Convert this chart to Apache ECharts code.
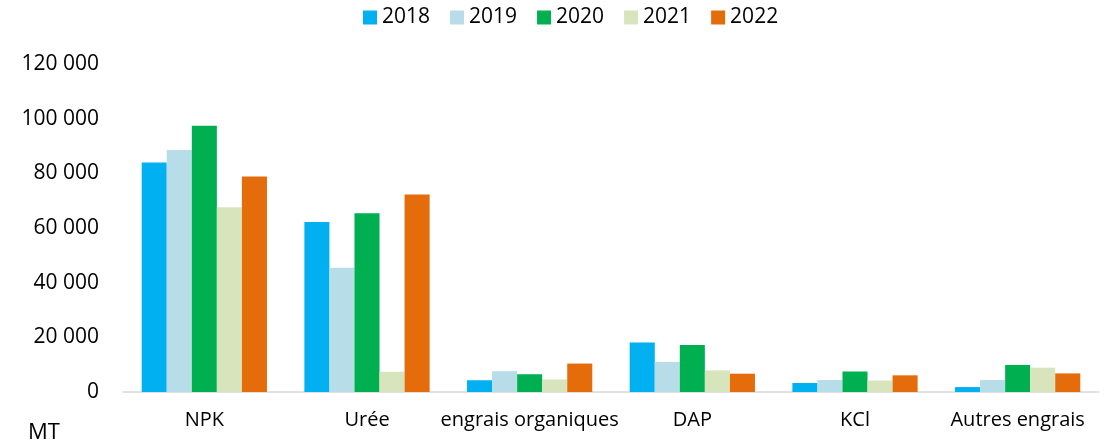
<!DOCTYPE html>
<html>
<head>
<meta charset="utf-8">
<script src="https://cdn.jsdelivr.net/npm/echarts@6/dist/echarts.min.js"></script>
<style>
  html, body { margin: 0; padding: 0; background: #fff; }
  #chart { width: 1112px; height: 445px; }
</style>
</head>
<body>
<div id="chart"></div>
<script>
// values, in MT
const categories = ['NPK', 'Urée', 'engrais organiques', 'DAP', 'KCl', 'Autres engrais'];
const years = ['2018', '2019', '2020', '2021', '2022'];
const v2018 = [84000, 62200, 4300, 18100, 3300, 1800];
const v2019 = [88500, 45500, 7600, 11000, 4400, 4400];
const v2020 = [97400, 65400, 6500, 17200, 7500, 9900];
const v2021 = [67600, 7400, 4600, 7900, 4200, 8900];
const v2022 = [78800, 72300, 10400, 6700, 6100, 6800];
const yearValues = [v2018, v2019, v2020, v2021, v2022];
const colors = ['#00b0f0', '#b7dde8', '#00b050', '#d8e4bc', '#e46c0a'];

const font = '"Open Sans", sans-serif';

// 120000 -> "120 000"
function fmt(v) {
  return String(v).replace(/\B(?=(\d{3})+(?!\d))/g, ' ');
}

const chart = echarts.init(document.getElementById('chart'));
chart.setOption({
  animation: false,
  color: colors,
  textStyle: { fontFamily: font },
  legend: {
    top: 2,
    left: 358,
    itemWidth: 14,
    itemHeight: 14,
    itemGap: 20,
    icon: 'rect',
    textStyle: { fontSize: 21, color: '#000', fontFamily: font },
    data: years
  },
  grid: { left: 123, right: 13, top: 64, bottom: 53 },
  xAxis: {
    type: 'category',
    data: categories,
    axisTick: { show: false },
    axisLine: { lineStyle: { color: '#d9d9d9', width: 1.5 } },
    axisLabel: { color: '#000', fontSize: 20, margin: 18, fontFamily: font, interval: 0 }
  },
  yAxis: {
    type: 'value',
    min: 0,
    max: 120000,
    interval: 20000,
    splitLine: { show: false },
    axisLine: { show: false },
    axisTick: { show: false },
    axisLabel: { color: '#000', fontSize: 21, margin: 24, fontFamily: font, formatter: fmt }
  },
  graphic: [{
    type: 'text',
    left: 28,
    top: 422,
    style: { text: 'MT', fontSize: 22, fill: '#000', fontFamily: font }
  }],
  series: years.map((y, i) => ({
    name: y,
    type: 'bar',
    data: yearValues[i],
    barGap: '0%',
    barCategoryGap: '23%'
  }))
});
</script>
</body>
</html>
